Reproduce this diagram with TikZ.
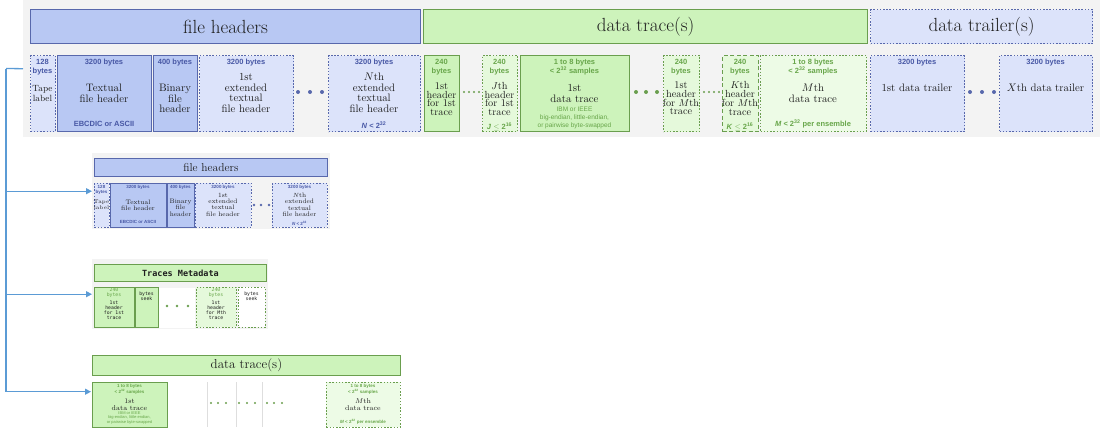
\documentclass[tikz,border=0pt]{standalone}
\usepackage{fontspec}
\newfontfamily\tagfont{Liberation Sans}
\newfontfamily\pixfont{DejaVu Sans Mono}
\usetikzlibrary{arrows.meta, positioning}
\definecolor{fhfill}{RGB}{184,200,243}
\definecolor{fhline}{RGB}{88,104,172}
\definecolor{fhlight}{RGB}{220,227,250}
\definecolor{fhtext}{RGB}{72,88,165}
\definecolor{dtfill}{RGB}{205,243,187}
\definecolor{dtline}{RGB}{106,158,78}
\definecolor{dtlight}{RGB}{229,249,219}
\definecolor{dttext}{RGB}{104,166,74}
\definecolor{panelgray}{RGB}{243,243,243}
\definecolor{ink}{RGB}{30,30,30}
\definecolor{feedblue}{RGB}{91,155,213}
\definecolor{sepgray}{RGB}{222,222,222}

\begin{document}
\begin{tikzpicture}[
        x=1pt, y=-1pt,
        wh/.style 2 args={minimum width=#1pt, minimum height=#2pt},
        panel/.style={rectangle, anchor=north west, inner sep=0pt, fill=panelgray},
        box/.style={rectangle, anchor=north west, inner sep=0pt, line width=1.1pt, text=ink},
        dotline/.style={dash pattern=on 1.5pt off 1.7pt},
        dashline/.style={dash pattern=on 4pt off 2.5pt},
        fhbox/.style={box, draw=fhline, fill=fhfill},
        fhopt/.style={box, draw=fhline, fill=fhlight, dotline},
        dtbox/.style={box, draw=dtline, fill=dtfill},
        dtopt/.style={box, draw=dtline, fill=dtlight, dotline},
        lbl/.style={align=center, text=ink, inner sep=0pt, font=\fontsize{10.8}{10.5}\selectfont},
        hlbl/.style={lbl, font=\fontsize{10.3}{8.7}\selectfont},
        fhtag/.style={align=center, inner sep=0pt, text=fhtext, font=\tagfont\bfseries\fontsize{7.5}{9}\selectfont},
        dttag/.style={fhtag, text=dttext},
        dtnote/.style={align=center, inner sep=0pt, text=dttext, font=\tagfont\fontsize{6.5}{8.3}\selectfont},
        feed/.style={draw=feedblue, line width=1.3pt, -{Triangle[length=6pt, width=6pt]}}
        ]

        \useasboundingbox (0,0) rectangle (1100,431);

        %% Top band
        \node[panel, wh={1077}{137}] (topbg) at (23,0) {};
        \node[fhbox, wh={390}{34}, font=\fontsize{19}{21}\selectfont] (fhbar) at (30,9) {file headers};
        \node[dtbox, wh={444}{34}, font=\fontsize{19}{21}\selectfont] (dtbar) at (423,9) {data trace(s)};
        \node[fhopt, wh={222}{34}, font=\fontsize{19}{21}\selectfont] (trbar) at (870,9) {data trailer(s)};

        \node[fhopt, wh={25}{76}] (tape) at (30,55) {};
        \node[fhbox, wh={94}{76}] (txthdr) at (57,55) {};
        \node[fhbox, wh={44}{76}] (binhdr) at (153,55) {};
        \node[fhopt, wh={94}{76}] (exthdr) at (199,55) {};
        \node[fhopt, wh={92}{76}] (nexthdr) at (328,55) {};
        \node[dtbox, wh={35}{76}] (hdrone) at (424,55) {};
        \node[dtopt, wh={35}{76}] (hdrj) at (482,55) {};
        \node[dtbox, wh={109}{76}] (trcone) at (520,55) {};
        \node[dtopt, wh={36}{76}] (hdrm) at (663,55) {};
        \node[dtopt, dashline, wh={36}{76}] (hdrk) at (722,55) {};
        \node[dtopt, fill=dtlight!70!white, wh={106}{76}] (trcm) at (760,55) {};
        \node[fhopt, wh={94}{76}] (trlone) at (870,55) {};
        \node[fhopt, wh={93}{76}] (trlx) at (999,55) {};

% Texts of the top band
        \node[fhtag] at (42.5,67.5) {128\\bytes};
        \node[lbl, font=\fontsize{9}{10.5}\selectfont] at (42.5,93.5) {Tape\\label};
        \node[fhtag] at (104,63) {3200 bytes};
        \node[lbl] at (104,93.5) {Textual\\file header};
        \node[fhtag] at (104,124) {EBCDIC or ASCII};
        \node[fhtag] at (175,63) {400 bytes};
        \node[lbl] at (175,98.5) {Binary\\file\\header};
        \node[fhtag] at (246,63) {3200 bytes};
        \node[lbl] at (246,93) {1st\\extended\\textual\\file header};
        \node[fhtag] at (374,63) {3200 bytes};
        \node[lbl] at (374,93) {$N$th\\extended\\textual\\file header};
        \node[fhtag] at (374,125) {\textit{N} < 2\textsuperscript{32}};

        \node[dttag] at (441.5,67.5) {240\\bytes};
        \node[hlbl] at (441.5,99) {1st\\header\\for 1st\\trace};
        \node[dttag] at (499.5,67.5) {240\\bytes};
        \node[hlbl] at (499.5,99) {$J$th\\header\\for 1st\\trace};
        \node[dttag] at (499.5,127) {\textit{J} $\le$ 2\textsuperscript{16}};
        \node[dttag] at (574.5,67.5) {1 to 8 bytes\\< 2\textsuperscript{32} samples};
        \node[lbl] at (574.5,93.5) {1st\\data trace};
        \node[dtnote] at (574.5,118) {IBM or IEEE\\big-endian, little-endian,\\or pairwise byte-swapped};
        \node[dttag] at (681,67.5) {240\\bytes};
        \node[hlbl] at (681,98.5) {1st\\header\\for $M$th\\trace};
        \node[dttag] at (740,67.5) {240\\bytes};
        \node[hlbl] at (740,98.5) {$K$th\\header\\for $M$th\\trace};
        \node[dttag] at (740,127) {\textit{K} $\le$ 2\textsuperscript{16}};
        \node[dttag] at (813,67.5) {1 to 8 bytes\\< 2\textsuperscript{32} samples};
        \node[lbl] at (813,93.5) {$M$th\\data trace};
        \node[dttag] at (813,124) {\textit{M} < 2\textsuperscript{32} per ensemble};

        \node[fhtag] at (917,63) {3200 bytes};
        \node[lbl] at (917,88) {1st data trailer};
        \node[fhtag] at (1045.5,63) {3200 bytes};
        \node[lbl] at (1045.5,88) {$X$th data trailer};

% Dots of the top band
        \foreach \x in {298,310,322,970,982,994} {
            \fill[fhline] (\x,92) circle (2pt);
        }
        \foreach \x in {636,646,657} {
            \fill[dtline] (\x,92) circle (2pt);
        }
        \foreach \x in {464,469,474,479,704,709,714,719} {
            \fill[dtline] (\x,92) circle (1.1pt);
        }

        %% File headers panel
        \node[panel, wh={238}{76}] (bgfh) at (92,153) {};
        \node[fhbox, wh={233}{18}, line width=0.8pt, font=\fontsize{11.5}{12}\selectfont] (fhbarb) at (94,158) {file headers};
        \node[fhopt, wh={15}{44}, line width=0.8pt] (tapeb) at (94,183) {};
        \node[fhbox, wh={56}{44}, line width=0.8pt] (txthdrb) at (110,183) {};
        \node[fhbox, wh={27}{44}, line width=0.8pt] (binhdrb) at (167,183) {};
        \node[fhopt, wh={56}{44}, line width=0.8pt] (exthdrb) at (195,183) {};
        \node[fhopt, wh={55}{44}, line width=0.8pt] (nexthdrb) at (272,183) {};
        \foreach \x in {254,261,269} {
            \fill[fhline] (\x,205) circle (1.3pt);
        }
        \node[fhtag, font=\tagfont\bfseries\fontsize{4.5}{5.2}\selectfont] at (101.5,190) {128\\bytes};
        \node[lbl, font=\fontsize{5.3}{6.2}\selectfont] at (101.5,205) {Tape\\label};
        \node[fhtag, font=\tagfont\bfseries\fontsize{4.5}{5.2}\selectfont] at (138,187.6) {3200 bytes};
        \node[lbl, font=\fontsize{6.5}{6.2}\selectfont] at (138,205) {Textual\\file header};
        \node[fhtag, font=\tagfont\bfseries\fontsize{4.5}{5.2}\selectfont] at (138,222.4) {EBCDIC or ASCII};
        \node[fhtag, font=\tagfont\bfseries\fontsize{4.5}{5.2}\selectfont] at (180.5,187.6) {400 bytes};
        \node[lbl, font=\fontsize{6.5}{6.2}\selectfont] at (180.5,207.8) {Binary\\file\\header};
        \node[fhtag, font=\tagfont\bfseries\fontsize{4.5}{5.2}\selectfont] at (223,187.6) {3200 bytes};
        \node[lbl, font=\fontsize{6.5}{6.2}\selectfont] at (223,204.7) {1st\\extended\\textual\\file header};
        \node[fhtag, font=\tagfont\bfseries\fontsize{4.5}{5.2}\selectfont] at (299.5,187.6) {3200 bytes};
        \node[lbl, font=\fontsize{6.5}{6.2}\selectfont] at (299.5,204.7) {$N$th\\extended\\textual\\file header};
        \node[fhtag, font=\tagfont\bfseries\fontsize{4.5}{5.2}\selectfont] at (299.5,223) {\textit{N} < 2\textsuperscript{32}};

        %% Traces metadata panel
        \node[panel, wh={176}{70}] (bgtm) at (92,259) {};
        \node[dtbox, wh={172}{17}, line width=0.9pt, font=\pixfont\bfseries\fontsize{8.5}{9}\selectfont] (tmbar) at (94,264) {Traces Metadata};
        \node[dtbox, wh={40}{40}, line width=0.9pt] (tmhdr) at (94,287) {};
        \node[dtbox, wh={23}{40}, line width=0.9pt] (tmseek) at (135,287) {};
        \node[box, fill=white, wh={36}{40}] (tmgap) at (158,287) {};
        \node[dtopt, wh={40}{40}, line width=0.9pt] (tmhdrm) at (196,287) {};
        \node[dtopt, fill=white, wh={27}{40}, line width=0.9pt] (tmseekm) at (238,287) {};
        \foreach \x in {167,177,188} {
            \fill[dtline] (\x,306) circle (1.3pt);
        }
        \node[align=center, inner sep=0pt, text=dttext, font=\pixfont\fontsize{4.8}{4.6}\selectfont] at (114,293) {240\\bytes};
        \node[align=center, inner sep=0pt, text=ink, font=\pixfont\fontsize{4.8}{5}\selectfont] at (114,310.5) {1st\\header\\for 1st\\trace};
        \node[align=center, inner sep=0pt, text=ink, font=\pixfont\fontsize{4.8}{5}\selectfont] at (146.5,296) {bytes\\seek};
        \node[align=center, inner sep=0pt, text=dttext, font=\pixfont\fontsize{4.8}{4.6}\selectfont] at (216,293) {240\\bytes};
        \node[align=center, inner sep=0pt, text=ink, font=\pixfont\fontsize{4.8}{5}\selectfont] at (216,310.5) {1st\\header\\for Mth\\trace};
        \node[align=center, inner sep=0pt, text=ink, font=\pixfont\fontsize{4.8}{5}\selectfont] at (251.5,296) {bytes\\seek};

        %% Data traces panel
        \node[panel, fill=none, wh={312}{73}] (bgdt) at (91,355) {};
        \node[dtbox, wh={308}{20}, line width=0.9pt, font=\fontsize{13}{14}\selectfont] (dtbarb) at (92,355) {data trace(s)};
        \node[dtbox, wh={75}{45}, line width=0.9pt] (trconeb) at (92,382) {};
        \node[dtopt, fill=dtlight!70!white, wh={74}{45}, line width=0.9pt] (trcmb) at (326,382) {};
        \foreach \x in {207,236,262} {
            \draw[sepgray, line width=0.6pt] (\x,382) -- (\x,427);
        }
        \foreach \x in {211,218,226,239,247,255,267,274,282} {
            \fill[dtline] (\x,403) circle (1.1pt);
        }
        \node[dttag, font=\tagfont\bfseries\fontsize{4.5}{5}\selectfont] at (129.5,389.5) {1 to 8 bytes\\< 2\textsuperscript{32} samples};
        \node[lbl, font=\fontsize{7}{7}\selectfont] at (129.5,404.5) {1st\\data trace};
        \node[dtnote, font=\tagfont\fontsize{4}{4.3}\selectfont] at (129.5,418) {IBM or IEEE\\big-endian, little-endian,\\or pairwise byte-swapped};
        \node[dttag, font=\tagfont\bfseries\fontsize{4.5}{5}\selectfont] at (363,389.5) {1 to 8 bytes\\< 2\textsuperscript{32} samples};
        \node[lbl, font=\fontsize{7}{7}\selectfont] at (363,404.5) {$M$th\\data trace};
        \node[dttag, font=\tagfont\bfseries\fontsize{4.5}{5}\selectfont] at (363,422) {\textit{M} < 2\textsuperscript{32} per ensemble};

        %% Feed lines
        \coordinate (spine) at (6,68.5);
        \draw[feed, -] (topbg.west) -- (spine);
        \draw[feed] (spine) |- (bgdt.west);
        \draw[feed] (spine |- bgfh.west) -- (bgfh.west);
        \draw[feed] (spine |- bgtm.west) -- (bgtm.west);
\end{tikzpicture}
\end{document}
